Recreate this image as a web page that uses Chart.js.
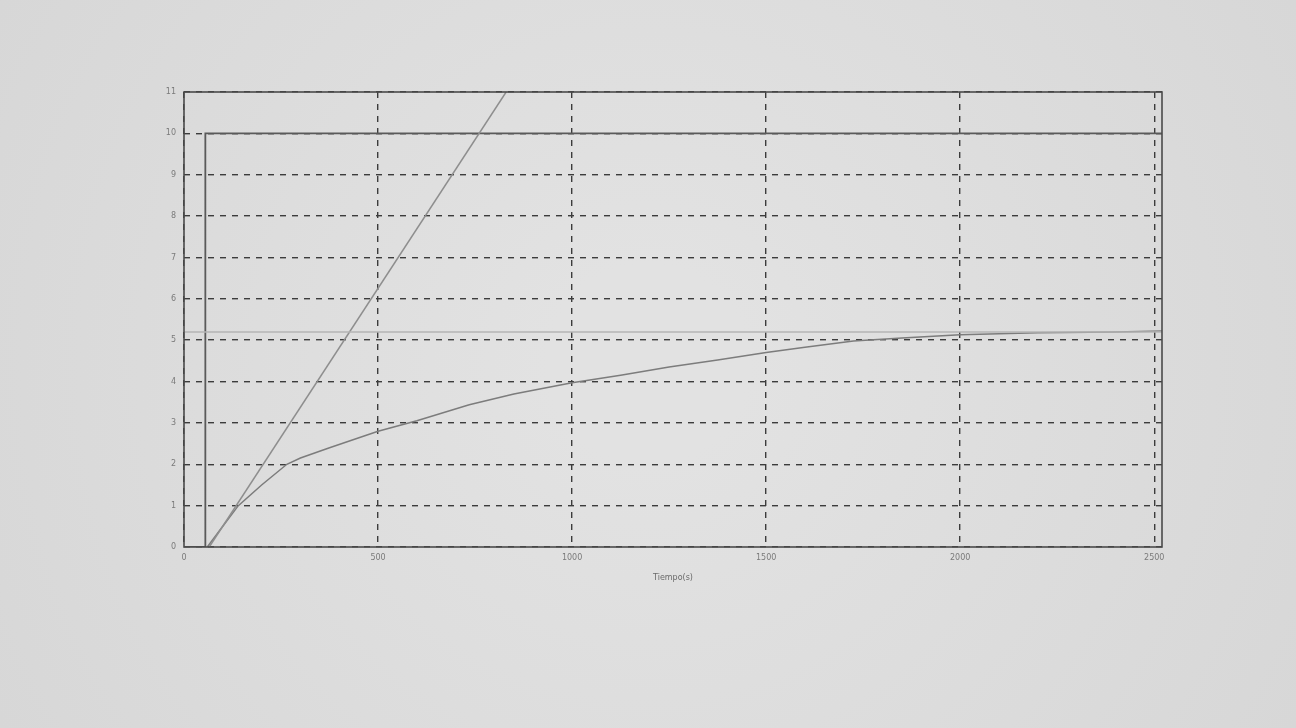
<!DOCTYPE html>
<html>
<head>
<meta charset="utf-8">
<script src="https://cdn.jsdelivr.net/npm/chart.js@4.4.1/dist/chart.umd.min.js"></script>
<style>
  html, body { margin: 0; padding: 0; background: #dedede; }
  #wrap { width: 1296px; height: 728px; position: relative; }
</style>
</head>
<body>
<div id="wrap"><canvas id="c" width="1296" height="728"></canvas></div>
<script>
// ---- data ----
const xTicks = [0, 500, 1000, 1500, 2000, 2500];
const yTicks = [0, 1, 2, 3, 4, 5, 6, 7, 8, 9, 10, 11];
const xLabel = 'Tiempo(s)';

// step input
const stepX = [0, 55, 55, 2520];
const stepY = [0, 0, 10, 10];

// process response
const respX = [60, 100, 140, 200, 265, 300, 375, 500, 600, 735, 850, 1000, 1125, 1250, 1375, 1500, 1600, 1725, 1850, 2000, 2200, 2400, 2520];
const respY = [0, 0.5, 1.0, 1.5, 2.0, 2.15, 2.4, 2.8, 3.05, 3.44, 3.7, 3.97, 4.15, 4.35, 4.52, 4.7, 4.83, 4.98, 5.05, 5.13, 5.18, 5.2, 5.22];

// tangent line
const tangentX = [65, 830];
const tangentY = [0, 11];

// final-value reference line
const refX = [0, 2520];
const refY = [5.2, 5.2];

const toPts = (xs, ys) => xs.map((x, i) => ({ x: x, y: ys[i] }));

const bgPlugin = {
  id: 'bg',
  beforeDraw(chart) {
    const { ctx, width, height } = chart;
    ctx.save();
    const g = ctx.createRadialGradient(width / 2, height / 2, 100, width / 2, height / 2, 800);
    g.addColorStop(0, '#e2e2e2');
    g.addColorStop(1, '#d6d6d6');
    ctx.fillStyle = g;
    ctx.fillRect(0, 0, width, height);
    ctx.restore();
  },
  afterDraw(chart) {
    const { ctx, chartArea: a } = chart;
    ctx.save();
    ctx.strokeStyle = '#4a4a4a';
    ctx.lineWidth = 1.6;
    ctx.strokeRect(a.left, a.top, a.right - a.left, a.bottom - a.top);
    ctx.restore();
  }
};

new Chart(document.getElementById('c'), {
  type: 'line',
  data: {
    datasets: [
      { label: 'ref', data: toPts(refX, refY), borderColor: '#b4b4b4', borderWidth: 1.5, pointRadius: 0, tension: 0 },
      { label: 'tangent', data: toPts(tangentX, tangentY), borderColor: '#8e8e8e', borderWidth: 1.5, pointRadius: 0, tension: 0 },
      { label: 'response', data: toPts(respX, respY), borderColor: '#7c7c7c', borderWidth: 1.5, pointRadius: 0, tension: 0 },
      { label: 'step', data: toPts(stepX, stepY), borderColor: '#5a5a5a', borderWidth: 1.8, pointRadius: 0, tension: 0 }
    ]
  },
  options: {
    responsive: false,
    animation: false,
    events: [],
    layout: { padding: { left: 164, right: 134, top: 92, bottom: 141 } },
    plugins: { legend: { display: false }, tooltip: { enabled: false } },
    scales: {
      x: {
        type: 'linear',
        min: 0,
        max: 2520,
        afterBuildTicks: (axis) => { axis.ticks = xTicks.map(v => ({ value: v })); },
        afterFit: (s) => { s.height = 40; },
        ticks: { color: '#7a7a7a', font: { family: 'DejaVu Sans', size: 8 }, padding: 6, maxRotation: 0, callback: (v) => String(v) },
        grid: { color: '#3c3c3c', lineWidth: 1.4, drawTicks: false },
        border: { display: false, dash: [6, 6] },
        title: { display: true, text: xLabel, color: '#6a6a6a', font: { family: 'DejaVu Sans', size: 8 }, padding: { top: 2 } }
      },
      y: {
        type: 'linear',
        min: 0,
        max: 11,
        afterBuildTicks: (axis) => { axis.ticks = yTicks.map(v => ({ value: v })); },
        afterFit: (s) => { s.width = 20; },
        ticks: { color: '#7a7a7a', font: { family: 'DejaVu Sans', size: 8 }, padding: 8, callback: (v) => String(v) },
        grid: { color: '#3c3c3c', lineWidth: 1.4, drawTicks: false },
        border: { display: false, dash: [6, 6] }
      }
    }
  },
  plugins: [bgPlugin]
});
</script>
</body>
</html>
